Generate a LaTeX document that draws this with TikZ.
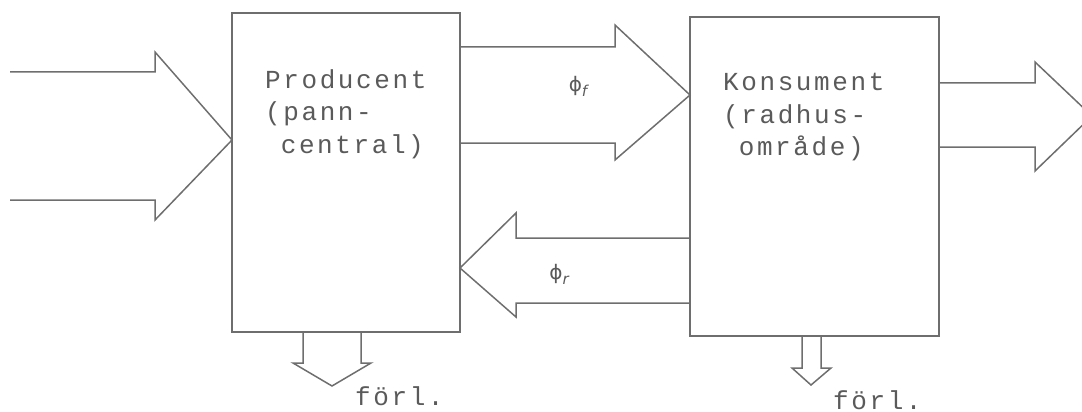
\documentclass[tikz,border=0pt]{standalone}
\usepackage{fontspec}
\newfontfamily\tw[LetterSpace=10]{Liberation Mono}
\newfontfamily\phifont{DejaVu Sans}
\usetikzlibrary{calc}
\definecolor{inkgray}{HTML}{6E6E6E}
\definecolor{txtgray}{HTML}{5A5A5A}
\newcommand{\fluxsub}[1]{\raisebox{-5pt}{\fontsize{15}{15}\selectfont\itshape #1}}
\begin{document}
\begin{tikzpicture}[x=1pt,y=-1pt,
  ink/.style={draw=inkgray, line width=1.5pt, line join=miter},
  blockbox/.style={ink, rectangle, inner sep=0pt, outer sep=0pt},
  lbl/.style={text=txtgray, font=\tw\fontsize{26}{32.5}\selectfont, inner sep=0pt, align=left},
  flux/.style={text=txtgray, font=\phifont\fontsize{20}{22}\selectfont, inner sep=0pt}]
\useasboundingbox (0,0) rectangle (1082,412);
% boxes
\node[blockbox, minimum width=228pt, minimum height=319pt] (prod) at (346,172.5) {};
\node[blockbox, minimum width=249pt, minimum height=319pt] (kons) at (814.5,176.5) {};
% box texts
\node[lbl, anchor=north west] (prodtxt) at (265,69) {Producent\\(pann-\\\phantom{(}central)};
\node[lbl, anchor=north west] (konstxt) at (723,73) {Konsument\\(radhus-\\\phantom{(}område)};
% coordinates for free ends
\coordinate (inA) at (10,72);
\coordinate (inB) at (10,200);
\coordinate (outTip) at (1092,116);
% input arrow into producer
\draw[ink] (inA) -- (155,72) -- (155,52) -- (prod.west |- 0,140) -- (155,220) -- (155,200) -- (inB);
% forward flow producer -> consumer
\draw[ink] (prod.east |- 0,47) -- (615,47) -- (615,25) -- (kons.west |- 0,95) -- (615,160) -- (615,143) -- (prod.east |- 0,143);
% return flow consumer -> producer
\draw[ink] (kons.west |- 0,238) -- (516,238) -- (516,213) -- (prod.east |- 0,268) -- (516,317) -- (516,303) -- (kons.west |- 0,303);
% output arrow from consumer
\draw[ink] (kons.east |- 0,83) -- (1035,83) -- (1035,62) -- (outTip) -- (1035,171) -- (1035,147) -- (kons.east |- 0,147);
% losses
\draw[ink] (prod.south -| 303,0) -- (303,363) -- (293,363) -- (332,386) -- (371,363) -- (361,363) -- (prod.south -| 361,0);
\draw[ink] (kons.south -| 802,0) -- (802,368) -- (792,368) -- (811,385) -- (831,368) -- (821,368) -- (kons.south -| 821,0);
% labels
\node[flux] (phif) at (578,86) {ϕ\fluxsub{f}};
\node[flux] (phir) at (559,274) {ϕ\fluxsub{r}};
\node[lbl, anchor=base west] (forl1) at (355,405) {förl.};
\node[lbl, anchor=base west] (forl2) at (833,409) {förl.};
\end{tikzpicture}
\end{document}
